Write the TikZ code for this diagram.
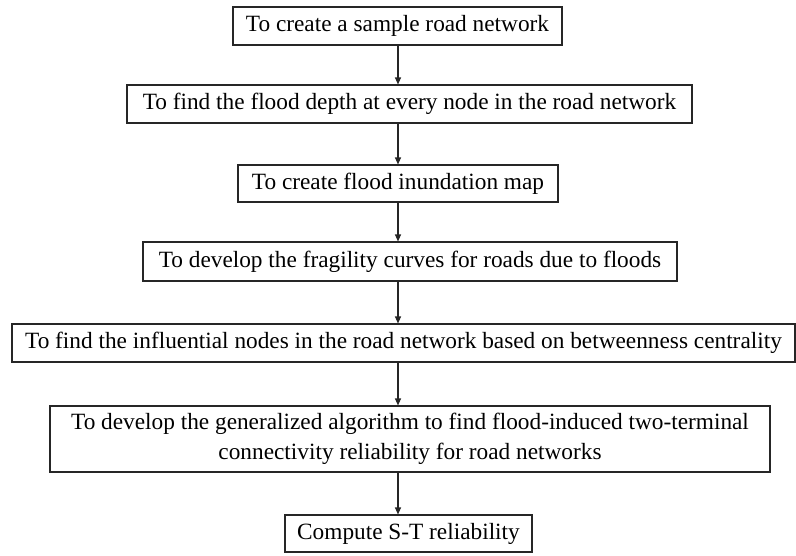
\documentclass[tikz,border=0pt]{standalone}
\usepackage{fontspec}
\setmainfont{Liberation Serif}
\usetikzlibrary{arrows.meta}
\begin{document}
\begin{tikzpicture}[x=1pt,y=-1pt,
  stepbox/.style={draw=black!85, line width=1.1pt, rectangle, inner sep=0pt, align=center,
    font=\fontsize{23.3}{30}\selectfont},
  flow/.style={draw=black!85, line width=1.1pt, -{Triangle[length=7pt,width=6pt]}}]
\useasboundingbox (0,0) rectangle (796,555);
\node[stepbox, minimum width=329pt, minimum height=38pt] (b1) at (397.5,26) {To create a sample road network};
\node[stepbox, minimum width=565pt, minimum height=38pt] (b2) at (409.5,104) {To find the flood depth at every node in the road network};
\node[stepbox, minimum width=320pt, minimum height=37pt] (b3) at (398,183.5) {To create flood inundation map};
\node[stepbox, minimum width=534pt, minimum height=39pt] (b4) at (410,261.5) {To develop the fragility curves for roads due to floods};
\node[stepbox, minimum width=783pt, minimum height=38pt] (b5) at (403.5,343) {To find the influential nodes in the road network based on betweenness centrality};
\node[stepbox, minimum width=720pt, minimum height=66pt] (b6) at (410,439) {To develop the generalized algorithm to find flood-induced two-terminal\\connectivity reliability for road networks};
\node[stepbox, minimum width=247pt, minimum height=37pt] (b7) at (408.5,533.5) {Compute S-T reliability};
\coordinate (ax) at (398,0);
\draw[flow] (b1.south -| ax) -- (b2.north -| ax);
\draw[flow] (b2.south -| ax) -- (b3.north -| ax);
\draw[flow] (b3.south -| ax) -- (b4.north -| ax);
\draw[flow] (b4.south -| ax) -- (b5.north -| ax);
\draw[flow] (b5.south -| ax) -- (b6.north -| ax);
\draw[flow] (b6.south -| ax) -- (b7.north -| ax);
\end{tikzpicture}
\end{document}
